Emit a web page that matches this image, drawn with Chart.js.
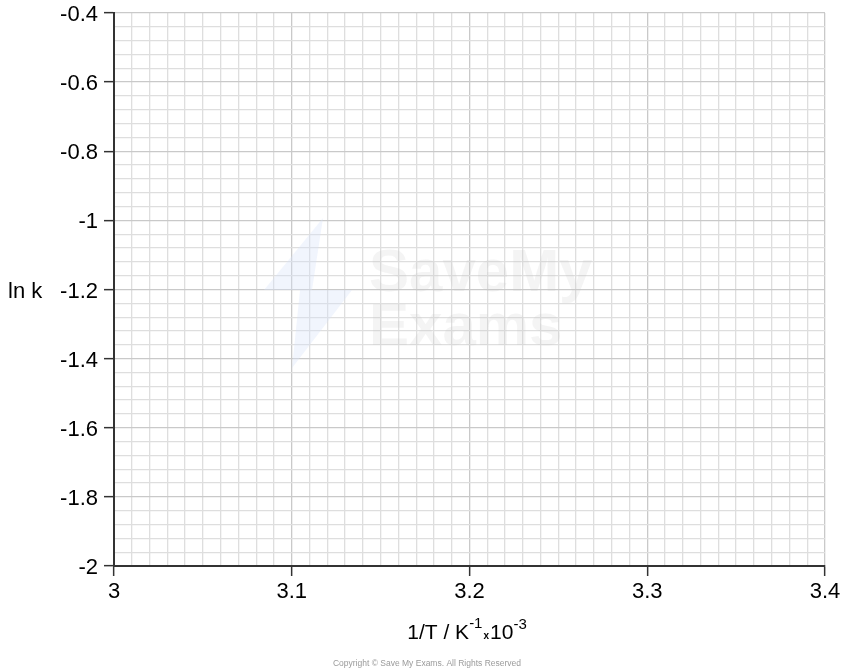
<!DOCTYPE html>
<html>
<head>
<meta charset="utf-8">
<script src="https://cdn.jsdelivr.net/npm/chart.js@4.4.1/dist/chart.umd.min.js"></script>
<style>
html,body{margin:0;padding:0;background:#fff;}
#wrap{width:854px;height:672px;position:relative;}
</style>
</head>
<body>
<div id="wrap"><canvas id="c" width="854" height="672"></canvas></div>
<script>
// ---- data ----
const xMin = 3.0, xMax = 3.4;
const xMinorStep = 0.01;
const xMajorStep = 0.1;
const yMin = -2.0, yMax = -0.4;
const yMinorStep = 0.04;
const yMajorStep = 0.2;
const xTitle = ['1/T / K', '-1', 'x', '10', '-3'];
const yTitle = 'ln k';
const seriesPoints = []; // blank graph paper: no plotted values

const FONT = '"Liberation Sans", Arial, Helvetica, sans-serif';

function isMajor(v, step){
  const r = v / step;
  return Math.abs(r - Math.round(r)) < 1e-6;
}

const decor = {
  id: 'decor',
  beforeDatasetsDraw(chart){
    const ctx = chart.ctx;
    ctx.save();
    // faint watermark
    ctx.fillStyle = 'rgba(215,225,250,0.35)';
    ctx.beginPath();
    ctx.moveTo(323, 218);
    ctx.lineTo(264, 290);
    ctx.lineTo(300, 290);
    ctx.lineTo(292, 368);
    ctx.lineTo(352, 290);
    ctx.lineTo(312, 290);
    ctx.closePath();
    ctx.fill();
    ctx.fillStyle = 'rgba(200,200,200,0.2)';
    ctx.font = 'bold 60px ' + FONT;
    ctx.textBaseline = 'alphabetic';
    ctx.textAlign = 'left';
    ctx.fillText('SaveMy', 369, 291);
    ctx.fillText('Exams', 369, 345);
    ctx.restore();
  },
  afterDraw(chart){
    const ctx = chart.ctx;
    const ys = chart.scales.y;
    ctx.save();
    ctx.fillStyle = '#000';
    // y title
    ctx.font = '22px ' + FONT;
    ctx.textAlign = 'left';
    ctx.textBaseline = 'middle';
    ctx.fillText(yTitle, 8, ys.getPixelForValue(-1.2) + 2);
    // x title with superscripts
    const base = 639;
    const big = '21px ' + FONT, sup = '15px ' + FONT, small = 'bold 10px ' + FONT;
    ctx.textBaseline = 'alphabetic';
    const parts = [
      {t: xTitle[0], f: big, dy: 0},
      {t: xTitle[1], f: sup, dy: -11},
      {t: xTitle[2], f: small, dy: 0, pad: 1},
      {t: xTitle[3], f: big, dy: 0},
      {t: xTitle[4], f: sup, dy: -10}
    ];
    let total = 0;
    parts.forEach(p => { ctx.font = p.f; p.w = ctx.measureText(p.t).width; total += p.w + (p.pad||0)*2; });
    let x = 467 - total/2;
    parts.forEach(p => {
      ctx.font = p.f;
      x += (p.pad||0);
      ctx.fillText(p.t, x, base + p.dy);
      x += p.w + (p.pad||0);
    });
    // copyright
    ctx.fillStyle = '#9a9a9a';
    ctx.font = '8.5px ' + FONT;
    ctx.textAlign = 'center';
    ctx.fillText('Copyright \u00A9 Save My Exams. All Rights Reserved', 427, 666);
    ctx.restore();
  }
};

new Chart(document.getElementById('c'), {
  type: 'scatter',
  data: { datasets: [{ data: seriesPoints, pointRadius: 0 }] },
  options: {
    responsive: false,
    animation: false,
    devicePixelRatio: 1,
    layout: { padding: { left: 0, top: 13, right: 29, bottom: 0 } },
    plugins: { legend: { display: false }, tooltip: { enabled: false } },
    scales: {
      x: {
        type: 'linear', min: xMin, max: xMax,
        afterFit(s){ s.height = 106; },
        border: { color: '#333', width: 2 },
        grid: {
          color: c => isMajor(c.tick.value, xMajorStep) ? '#c9c9c9' : '#dedede',
          lineWidth: 1.3,
          tickLength: 10,
          tickColor: c => isMajor(c.tick.value, xMajorStep) ? '#333' : 'rgba(0,0,0,0)',
          tickWidth: 1.5
        },
        ticks: {
          stepSize: xMinorStep, autoSkip: false, maxRotation: 0, minRotation: 0,
          color: '#000', font: { family: FONT, size: 22 }, padding: 3,
          callback: v => isMajor(v, xMajorStep) ? String(+v.toFixed(1)) : ''
        }
      },
      y: {
        type: 'linear', min: yMin, max: yMax,
        afterFit(s){ s.width = 114; },
        border: { color: '#333', width: 2 },
        grid: {
          color: c => isMajor(c.tick.value, yMajorStep) ? '#c9c9c9' : '#dedede',
          lineWidth: 1.3,
          tickLength: 10,
          tickColor: c => isMajor(c.tick.value, yMajorStep) ? '#333' : 'rgba(0,0,0,0)',
          tickWidth: 1.5
        },
        ticks: {
          stepSize: yMinorStep, autoSkip: false, labelOffset: 2,
          color: '#000', font: { family: FONT, size: 22, lineHeight: 0.5 }, padding: 6,
          callback: v => isMajor(v, yMajorStep) ? String(+v.toFixed(1)) : ''
        }
      }
    }
  },
  plugins: [decor]
});
</script>
</body>
</html>
